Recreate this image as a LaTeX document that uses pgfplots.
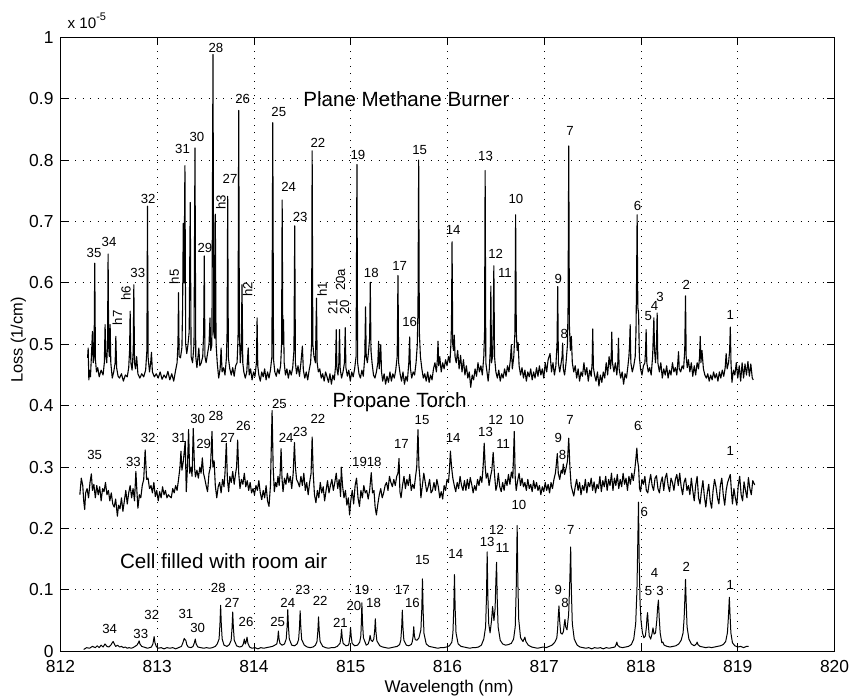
\documentclass[border=0pt]{standalone}
\usepackage{pgfplots}
\pgfplotsset{compat=1.18}
\usepackage{pgfplotstable}
\usepackage{fontspec}
\setmainfont{Liberation Sans}
\newcommand\lbl{\fontsize{6.6}{7}\selectfont}
\newcommand\ttl{\fontsize{10.3}{12}\selectfont}

\pgfplotstableread[row sep=\\]{
x y \\
812.28 0.478 \\ 812.286 0.494 \\ 812.293 0.442 \\ 812.30 0.458 \\ 812.31 0.447 \\ 812.322 0.490 \\ 812.330 0.521 \\ 812.338 0.470 \\
812.347 0.480 \\ 812.354 0.632 \\ 812.361 0.475 \\ 812.372 0.455 \\ 812.385 0.462 \\ 812.40 0.447 \\ 812.42 0.458 \\ 812.44 0.450 \\
812.453 0.470 \\ 812.461 0.532 \\ 812.468 0.480 \\ 812.478 0.470 \\ 812.486 0.500 \\ 812.492 0.647 \\ 812.498 0.495 \\ 812.505 0.480 \\
812.513 0.532 \\ 812.52 0.470 \\ 812.535 0.445 \\ 812.55 0.455 \\ 812.565 0.470 \\ 812.572 0.513 \\ 812.58 0.462 \\ 812.595 0.448 \\
812.61 0.445 \\ 812.63 0.452 \\ 812.65 0.440 \\ 812.67 0.450 \\ 812.69 0.447 \\ 812.705 0.462 \\ 812.714 0.490 \\ 812.72 0.554 \\
812.727 0.470 \\ 812.74 0.458 \\ 812.752 0.490 \\ 812.758 0.597 \\ 812.765 0.470 \\ 812.775 0.460 \\ 812.787 0.480 \\ 812.80 0.452 \\
812.82 0.445 \\ 812.84 0.452 \\ 812.86 0.447 \\ 812.88 0.458 \\ 812.893 0.490 \\ 812.899 0.725 \\ 812.906 0.478 \\ 812.92 0.455 \\
812.932 0.470 \\ 812.940 0.487 \\ 812.95 0.455 \\ 812.97 0.447 \\ 812.99 0.452 \\ 813.01 0.445 \\ 813.03 0.455 \\ 813.05 0.443 \\
813.07 0.450 \\ 813.09 0.445 \\ 813.11 0.456 \\ 813.13 0.442 \\ 813.15 0.452 \\ 813.17 0.440 \\ 813.19 0.458 \\ 813.205 0.470 \\
813.214 0.500 \\ 813.22 0.584 \\ 813.226 0.480 \\ 813.24 0.478 \\ 813.255 0.495 \\ 813.262 0.560 \\ 813.269 0.697 \\ 813.277 0.600 \\
813.286 0.791 \\ 813.294 0.500 \\ 813.305 0.485 \\ 813.318 0.500 \\ 813.330 0.520 \\ 813.341 0.731 \\ 813.350 0.480 \\ 813.365 0.470 \\
813.380 0.500 \\ 813.390 0.820 \\ 813.398 0.480 \\ 813.41 0.462 \\ 813.43 0.494 \\ 813.44 0.465 \\ 813.455 0.470 \\ 813.47 0.480 \\
813.480 0.520 \\ 813.486 0.644 \\ 813.493 0.480 \\ 813.505 0.470 \\ 813.52 0.485 \\ 813.535 0.500 \\ 813.545 0.543 \\ 813.553 0.490 \\
813.565 0.500 \\ 813.576 0.972 \\ 813.584 0.520 \\ 813.592 0.510 \\ 813.600 0.712 \\ 813.608 0.500 \\ 813.62 0.470 \\ 813.635 0.445 \\
813.65 0.460 \\ 813.66 0.494 \\ 813.67 0.455 \\ 813.685 0.462 \\ 813.70 0.450 \\ 813.715 0.478 \\ 813.722 0.520 \\ 813.728 0.741 \\
813.735 0.478 \\ 813.75 0.460 \\ 813.765 0.450 \\ 813.78 0.462 \\ 813.795 0.448 \\ 813.81 0.465 \\ 813.825 0.470 \\ 813.835 0.510 \\
813.842 0.881 \\ 813.849 0.520 \\ 813.858 0.470 \\ 813.868 0.490 \\ 813.876 0.597 \\ 813.884 0.470 \\ 813.895 0.455 \\ 813.91 0.445 \\
813.925 0.455 \\ 813.94 0.494 \\ 813.95 0.450 \\ 813.965 0.460 \\ 813.98 0.442 \\ 813.995 0.455 \\ 814.01 0.448 \\ 814.025 0.470 \\
814.032 0.543 \\ 814.039 0.465 \\ 814.05 0.450 \\ 814.065 0.440 \\ 814.08 0.455 \\ 814.095 0.447 \\ 814.11 0.460 \\ 814.125 0.442 \\
814.14 0.455 \\ 814.155 0.445 \\ 814.17 0.458 \\ 814.185 0.480 \\ 814.194 0.861 \\ 814.202 0.475 \\ 814.215 0.455 \\ 814.23 0.448 \\
814.245 0.460 \\ 814.26 0.452 \\ 814.275 0.465 \\ 814.285 0.500 \\ 814.291 0.735 \\ 814.298 0.500 \\ 814.305 0.540 \\ 814.312 0.470 \\
814.325 0.450 \\ 814.34 0.460 \\ 814.355 0.445 \\ 814.37 0.458 \\ 814.385 0.450 \\ 814.40 0.462 \\ 814.413 0.490 \\ 814.421 0.693 \\
814.428 0.470 \\ 814.44 0.452 \\ 814.455 0.465 \\ 814.47 0.448 \\ 814.485 0.470 \\ 814.50 0.497 \\ 814.51 0.458 \\ 814.525 0.445 \\
814.54 0.455 \\ 814.555 0.442 \\ 814.57 0.458 \\ 814.585 0.470 \\ 814.595 0.500 \\ 814.601 0.815 \\ 814.608 0.500 \\ 814.62 0.480 \\
814.635 0.470 \\ 814.646 0.575 \\ 814.653 0.470 \\ 814.665 0.455 \\ 814.68 0.460 \\ 814.695 0.445 \\ 814.71 0.452 \\ 814.725 0.440 \\
814.74 0.455 \\ 814.755 0.447 \\ 814.77 0.438 \\ 814.785 0.452 \\ 814.80 0.435 \\ 814.815 0.450 \\ 814.83 0.442 \\ 814.843 0.465 \\
814.850 0.524 \\ 814.857 0.460 \\ 814.868 0.450 \\ 814.877 0.470 \\ 814.884 0.524 \\ 814.891 0.460 \\ 814.905 0.445 \\ 814.92 0.455 \\
814.935 0.470 \\ 814.943 0.527 \\ 814.950 0.462 \\ 814.965 0.448 \\ 814.98 0.458 \\ 814.995 0.440 \\ 815.01 0.455 \\ 815.025 0.447 \\
815.04 0.460 \\ 815.055 0.480 \\ 815.064 0.793 \\ 815.071 0.470 \\ 815.085 0.452 \\ 815.10 0.445 \\ 815.115 0.458 \\ 815.13 0.448 \\
815.145 0.480 \\ 815.153 0.561 \\ 815.160 0.480 \\ 815.172 0.470 \\ 815.185 0.490 \\ 815.195 0.510 \\ 815.202 0.601 \\ 815.209 0.490 \\
815.22 0.470 \\ 815.235 0.450 \\ 815.25 0.445 \\ 815.265 0.455 \\ 815.28 0.470 \\ 815.288 0.505 \\ 815.295 0.460 \\ 815.31 0.4995 \\
815.318 0.455 \\ 815.33 0.440 \\ 815.345 0.452 \\ 815.36 0.435 \\ 815.375 0.448 \\ 815.39 0.438 \\ 815.405 0.455 \\ 815.42 0.440 \\
815.435 0.452 \\ 815.45 0.445 \\ 815.465 0.458 \\ 815.48 0.480 \\ 815.488 0.612 \\ 815.495 0.470 \\ 815.51 0.452 \\ 815.525 0.440 \\
815.54 0.455 \\ 815.555 0.435 \\ 815.57 0.448 \\ 815.585 0.440 \\ 815.60 0.470 \\ 815.609 0.512 \\ 815.616 0.462 \\ 815.63 0.445 \\
815.645 0.455 \\ 815.66 0.450 \\ 815.675 0.470 \\ 815.688 0.500 \\ 815.695 0.560 \\ 815.702 0.800 \\ 815.709 0.520 \\ 815.72 0.480 \\
815.735 0.460 \\ 815.75 0.445 \\ 815.765 0.452 \\ 815.78 0.440 \\ 815.795 0.455 \\ 815.81 0.438 \\ 815.825 0.450 \\ 815.84 0.442 \\
815.855 0.460 \\ 815.87 0.470 \\ 815.885 0.455 \\ 815.895 0.475 \\ 815.902 0.505 \\ 815.909 0.465 \\ 815.92 0.480 \\ 815.935 0.455 \\
815.95 0.470 \\ 815.965 0.460 \\ 815.98 0.475 \\ 815.995 0.465 \\ 816.01 0.480 \\ 816.025 0.470 \\ 816.035 0.500 \\ 816.041 0.530 \\
816.047 0.667 \\ 816.054 0.500 \\ 816.062 0.490 \\ 816.07 0.515 \\ 816.078 0.480 \\ 816.09 0.470 \\ 816.105 0.490 \\ 816.12 0.460 \\
816.135 0.482 \\ 816.15 0.455 \\ 816.165 0.475 \\ 816.18 0.450 \\ 816.195 0.465 \\ 816.21 0.445 \\ 816.225 0.455 \\ 816.24 0.430 \\
816.255 0.450 \\ 816.27 0.442 \\ 816.285 0.460 \\ 816.30 0.448 \\ 816.315 0.470 \\ 816.33 0.455 \\ 816.345 0.465 \\ 816.36 0.450 \\
816.375 0.480 \\ 816.383 0.520 \\ 816.389 0.783 \\ 816.396 0.470 \\ 816.408 0.455 \\ 816.42 0.440 \\ 816.432 0.460 \\ 816.442 0.490 \\
816.448 0.595 \\ 816.455 0.470 \\ 816.465 0.480 \\ 816.472 0.520 \\ 816.479 0.628 \\ 816.486 0.480 \\ 816.50 0.455 \\ 816.515 0.445 \\
816.53 0.458 \\ 816.545 0.440 \\ 816.56 0.452 \\ 816.575 0.445 \\ 816.59 0.460 \\ 816.605 0.448 \\ 816.62 0.465 \\ 816.635 0.455 \\
816.65 0.475 \\ 816.66 0.4995 \\ 816.67 0.460 \\ 816.685 0.480 \\ 816.697 0.520 \\ 816.704 0.711 \\ 816.711 0.520 \\ 816.72 0.490 \\
816.73 0.503 \\ 816.74 0.465 \\ 816.755 0.450 \\ 816.77 0.462 \\ 816.785 0.445 \\ 816.80 0.458 \\ 816.815 0.440 \\ 816.83 0.455 \\
816.845 0.447 \\ 816.86 0.460 \\ 816.875 0.442 \\ 816.89 0.455 \\ 816.905 0.445 \\ 816.92 0.462 \\ 816.935 0.448 \\ 816.95 0.465 \\
816.965 0.450 \\ 816.98 0.460 \\ 816.995 0.445 \\ 817.01 0.470 \\ 817.025 0.455 \\ 817.04 0.475 \\ 817.06 0.485 \\ 817.075 0.455 \\
817.09 0.470 \\ 817.105 0.450 \\ 817.12 0.465 \\ 817.132 0.500 \\ 817.139 0.594 \\ 817.146 0.470 \\ 817.16 0.455 \\ 817.175 0.470 \\
817.184 0.480 \\ 817.190 0.502 \\ 817.197 0.460 \\ 817.21 0.450 \\ 817.225 0.470 \\ 817.240 0.500 \\ 817.246 0.560 \\ 817.253 0.823 \\
817.260 0.530 \\ 817.270 0.490 \\ 817.28 0.513 \\ 817.29 0.470 \\ 817.305 0.455 \\ 817.32 0.465 \\ 817.335 0.445 \\ 817.35 0.460 \\
817.365 0.440 \\ 817.38 0.455 \\ 817.395 0.448 \\ 817.41 0.470 \\ 817.425 0.450 \\ 817.44 0.462 \\ 817.455 0.440 \\ 817.47 0.458 \\
817.485 0.448 \\ 817.495 0.470 \\ 817.501 0.525 \\ 817.508 0.462 \\ 817.52 0.450 \\ 817.535 0.440 \\ 817.55 0.455 \\ 817.565 0.432 \\
817.58 0.450 \\ 817.595 0.438 \\ 817.61 0.455 \\ 817.625 0.445 \\ 817.64 0.470 \\ 817.655 0.450 \\ 817.67 0.480 \\ 817.685 0.460 \\
817.692 0.480 \\ 817.698 0.520 \\ 817.705 0.470 \\ 817.72 0.455 \\ 817.735 0.470 \\ 817.75 0.450 \\ 817.76 0.470 \\ 817.767 0.510 \\
817.774 0.460 \\ 817.79 0.445 \\ 817.805 0.455 \\ 817.82 0.435 \\ 817.835 0.452 \\ 817.85 0.445 \\ 817.865 0.465 \\ 817.875 0.480 \\
817.882 0.500 \\ 817.888 0.532 \\ 817.895 0.470 \\ 817.91 0.455 \\ 817.925 0.465 \\ 817.94 0.480 \\ 817.948 0.520 \\ 817.954 0.600 \\
817.960 0.711 \\ 817.967 0.560 \\ 817.975 0.551 \\ 817.983 0.480 \\ 817.995 0.460 \\ 818.01 0.450 \\ 818.025 0.465 \\ 818.04 0.470 \\
818.047 0.490 \\ 818.053 0.524 \\ 818.060 0.470 \\ 818.075 0.455 \\ 818.09 0.462 \\ 818.105 0.450 \\ 818.12 0.480 \\ 818.133 0.543 \\
818.140 0.490 \\ 818.150 0.470 \\ 818.160 0.500 \\ 818.167 0.551 \\ 818.174 0.470 \\ 818.19 0.455 \\ 818.205 0.470 \\ 818.22 0.445 \\
818.235 0.460 \\ 818.25 0.450 \\ 818.265 0.465 \\ 818.28 0.445 \\ 818.295 0.458 \\ 818.31 0.450 \\ 818.325 0.470 \\ 818.34 0.455 \\
818.355 0.462 \\ 818.37 0.450 \\ 818.38 0.470 \\ 818.388 0.488 \\ 818.395 0.460 \\ 818.41 0.455 \\ 818.425 0.465 \\ 818.44 0.460 \\
818.452 0.490 \\ 818.460 0.579 \\ 818.467 0.480 \\ 818.478 0.462 \\ 818.49 0.475 \\ 818.505 0.455 \\ 818.52 0.470 \\ 818.535 0.448 \\
818.55 0.465 \\ 818.565 0.450 \\ 818.58 0.470 \\ 818.595 0.460 \\ 818.605 0.480 \\ 818.612 0.513 \\ 818.619 0.470 \\ 818.63 0.490 \\
818.645 0.460 \\ 818.66 0.450 \\ 818.675 0.445 \\ 818.69 0.452 \\ 818.705 0.440 \\ 818.72 0.450 \\ 818.735 0.442 \\ 818.75 0.455 \\
818.765 0.445 \\ 818.78 0.452 \\ 818.795 0.440 \\ 818.81 0.455 \\ 818.825 0.445 \\ 818.84 0.458 \\ 818.855 0.448 \\ 818.87 0.462 \\
818.88 0.485 \\ 818.89 0.460 \\ 818.905 0.470 \\ 818.916 0.490 \\ 818.923 0.528 \\ 818.930 0.470 \\ 818.94 0.438 \\ 818.955 0.458 \\
818.97 0.450 \\ 818.985 0.470 \\ 819.00 0.445 \\ 819.015 0.465 \\ 819.03 0.440 \\ 819.045 0.470 \\ 819.06 0.445 \\ 819.075 0.468 \\
819.09 0.450 \\ 819.105 0.472 \\ 819.12 0.448 \\ 819.135 0.468 \\ 819.15 0.445 \\ 819.16 0.442 \\
}\methane

\pgfplotstableread[row sep=\\]{
x y \\
812.20 0.255 \\ 812.215 0.282 \\ 812.23 0.270 \\ 812.24 0.245 \\ 812.25 0.231 \\ 812.26 0.258 \\ 812.275 0.265 \\ 812.29 0.250 \\
812.305 0.275 \\ 812.319 0.289 \\ 812.33 0.262 \\ 812.345 0.272 \\ 812.36 0.250 \\ 812.375 0.270 \\ 812.39 0.255 \\ 812.405 0.268 \\
812.42 0.245 \\ 812.435 0.265 \\ 812.45 0.260 \\ 812.465 0.275 \\ 812.48 0.255 \\ 812.495 0.262 \\ 812.51 0.245 \\ 812.525 0.258 \\
812.54 0.240 \\ 812.555 0.235 \\ 812.57 0.248 \\ 812.588 0.220 \\ 812.60 0.238 \\ 812.615 0.232 \\ 812.63 0.250 \\ 812.645 0.228 \\
812.66 0.245 \\ 812.675 0.262 \\ 812.69 0.240 \\ 812.705 0.258 \\ 812.72 0.270 \\ 812.735 0.250 \\ 812.75 0.265 \\ 812.765 0.245 \\
812.779 0.293 \\ 812.79 0.260 \\ 812.80 0.233 \\ 812.815 0.255 \\ 812.83 0.250 \\ 812.845 0.270 \\ 812.86 0.280 \\ 812.875 0.328 \\
812.89 0.280 \\ 812.905 0.282 \\ 812.92 0.265 \\ 812.935 0.270 \\ 812.95 0.258 \\ 812.965 0.275 \\ 812.98 0.252 \\ 812.995 0.262 \\
813.01 0.245 \\ 813.025 0.260 \\ 813.04 0.250 \\ 813.055 0.268 \\ 813.07 0.255 \\ 813.085 0.262 \\ 813.10 0.250 \\ 813.115 0.255 \\
813.13 0.252 \\ 813.145 0.250 \\ 813.16 0.265 \\ 813.175 0.258 \\ 813.19 0.270 \\ 813.205 0.262 \\ 813.22 0.280 \\ 813.235 0.300 \\
813.245 0.326 \\ 813.255 0.295 \\ 813.27 0.310 \\ 813.289 0.342 \\ 813.30 0.260 \\ 813.312 0.300 \\ 813.324 0.361 \\ 813.335 0.290 \\
813.35 0.300 \\ 813.36 0.285 \\ 813.372 0.363 \\ 813.385 0.300 \\ 813.395 0.284 \\ 813.41 0.295 \\ 813.425 0.282 \\ 813.44 0.300 \\
813.453 0.290 \\ 813.466 0.315 \\ 813.478 0.290 \\ 813.49 0.282 \\ 813.505 0.270 \\ 813.52 0.260 \\ 813.535 0.290 \\ 813.55 0.300 \\
813.566 0.358 \\ 813.575 0.300 \\ 813.588 0.310 \\ 813.60 0.270 \\ 813.615 0.250 \\ 813.63 0.268 \\ 813.645 0.275 \\ 813.66 0.258 \\
813.675 0.280 \\ 813.69 0.268 \\ 813.70 0.290 \\ 813.714 0.339 \\ 813.725 0.280 \\ 813.738 0.260 \\ 813.75 0.285 \\ 813.765 0.275 \\
813.78 0.293 \\ 813.795 0.272 \\ 813.81 0.290 \\ 813.82 0.300 \\ 813.831 0.344 \\ 813.842 0.290 \\ 813.855 0.265 \\ 813.87 0.280 \\
813.885 0.272 \\ 813.90 0.290 \\ 813.915 0.268 \\ 813.93 0.278 \\ 813.945 0.262 \\ 813.96 0.275 \\ 813.975 0.258 \\ 813.99 0.265 \\
814.005 0.255 \\ 814.02 0.270 \\ 814.035 0.262 \\ 814.05 0.278 \\ 814.065 0.258 \\ 814.08 0.247 \\ 814.095 0.262 \\ 814.11 0.250 \\
814.125 0.270 \\ 814.14 0.245 \\ 814.155 0.236 \\ 814.17 0.270 \\ 814.187 0.392 \\ 814.198 0.300 \\ 814.21 0.260 \\ 814.222 0.275 \\
814.235 0.268 \\ 814.248 0.285 \\ 814.26 0.270 \\ 814.27 0.290 \\ 814.28 0.330 \\ 814.29 0.280 \\ 814.30 0.260 \\ 814.315 0.282 \\
814.33 0.272 \\ 814.345 0.290 \\ 814.36 0.275 \\ 814.375 0.285 \\ 814.39 0.265 \\ 814.405 0.290 \\ 814.418 0.340 \\ 814.428 0.300 \\
814.44 0.280 \\ 814.455 0.275 \\ 814.47 0.268 \\ 814.485 0.285 \\ 814.50 0.270 \\ 814.515 0.290 \\ 814.53 0.262 \\ 814.545 0.275 \\
814.56 0.255 \\ 814.575 0.275 \\ 814.59 0.290 \\ 814.601 0.349 \\ 814.612 0.290 \\ 814.625 0.255 \\ 814.64 0.242 \\ 814.655 0.262 \\
814.67 0.250 \\ 814.685 0.275 \\ 814.70 0.258 \\ 814.715 0.268 \\ 814.73 0.245 \\ 814.745 0.262 \\ 814.76 0.278 \\ 814.775 0.258 \\
814.79 0.270 \\ 814.805 0.280 \\ 814.82 0.262 \\ 814.835 0.275 \\ 814.85 0.290 \\ 814.865 0.265 \\ 814.88 0.280 \\ 814.895 0.252 \\
814.902 0.300 \\ 814.915 0.270 \\ 814.93 0.250 \\ 814.945 0.262 \\ 814.96 0.238 \\ 814.975 0.250 \\ 814.988 0.222 \\ 815.00 0.245 \\
815.015 0.262 \\ 815.03 0.240 \\ 815.045 0.270 \\ 815.06 0.282 \\ 815.075 0.250 \\ 815.09 0.236 \\ 815.105 0.262 \\ 815.12 0.250 \\
815.135 0.270 \\ 815.15 0.258 \\ 815.165 0.262 \\ 815.18 0.248 \\ 815.195 0.262 \\ 815.212 0.291 \\ 815.225 0.258 \\ 815.24 0.262 \\
815.252 0.235 \\ 815.265 0.222 \\ 815.28 0.240 \\ 815.295 0.255 \\ 815.31 0.265 \\ 815.325 0.250 \\ 815.34 0.258 \\ 815.355 0.270 \\
815.37 0.275 \\ 815.385 0.262 \\ 815.40 0.285 \\ 815.415 0.275 \\ 815.43 0.268 \\ 815.445 0.280 \\ 815.46 0.270 \\ 815.475 0.285 \\
815.488 0.290 \\ 815.499 0.314 \\ 815.508 0.260 \\ 815.52 0.250 \\ 815.535 0.270 \\ 815.55 0.285 \\ 815.565 0.265 \\ 815.58 0.280 \\
815.595 0.270 \\ 815.61 0.288 \\ 815.625 0.262 \\ 815.64 0.272 \\ 815.655 0.265 \\ 815.67 0.285 \\ 815.682 0.300 \\ 815.695 0.361 \\
815.705 0.300 \\ 815.715 0.282 \\ 815.725 0.250 \\ 815.74 0.270 \\ 815.755 0.290 \\ 815.77 0.275 \\ 815.785 0.260 \\ 815.80 0.268 \\
815.815 0.280 \\ 815.83 0.258 \\ 815.845 0.262 \\ 815.86 0.275 \\ 815.875 0.262 \\ 815.89 0.280 \\ 815.905 0.268 \\ 815.92 0.250 \\
815.935 0.260 \\ 815.95 0.248 \\ 815.965 0.270 \\ 815.98 0.262 \\ 815.995 0.280 \\ 816.01 0.275 \\ 816.02 0.295 \\ 816.03 0.326 \\
816.042 0.300 \\ 816.055 0.282 \\ 816.07 0.270 \\ 816.085 0.260 \\ 816.10 0.275 \\ 816.115 0.265 \\ 816.13 0.285 \\ 816.145 0.270 \\
816.16 0.262 \\ 816.175 0.278 \\ 816.19 0.262 \\ 816.205 0.280 \\ 816.22 0.265 \\ 816.235 0.283 \\ 816.25 0.272 \\ 816.265 0.258 \\
816.28 0.270 \\ 816.295 0.262 \\ 816.31 0.280 \\ 816.325 0.270 \\ 816.34 0.285 \\ 816.355 0.275 \\ 816.368 0.300 \\ 816.379 0.339 \\
816.39 0.300 \\ 816.40 0.282 \\ 816.415 0.290 \\ 816.43 0.270 \\ 816.445 0.285 \\ 816.458 0.295 \\ 816.472 0.324 \\ 816.485 0.290 \\
816.50 0.262 \\ 816.512 0.270 \\ 816.525 0.290 \\ 816.54 0.268 \\ 816.555 0.260 \\ 816.57 0.275 \\ 816.585 0.262 \\ 816.60 0.280 \\
816.615 0.270 \\ 816.63 0.288 \\ 816.645 0.272 \\ 816.66 0.292 \\ 816.675 0.282 \\ 816.69 0.358 \\ 816.70 0.282 \\ 816.71 0.262 \\
816.725 0.278 \\ 816.74 0.290 \\ 816.755 0.270 \\ 816.77 0.282 \\ 816.785 0.268 \\ 816.80 0.275 \\ 816.815 0.262 \\ 816.83 0.280 \\
816.845 0.265 \\ 816.86 0.272 \\ 816.875 0.260 \\ 816.89 0.278 \\ 816.905 0.265 \\ 816.92 0.275 \\ 816.935 0.262 \\ 816.95 0.270 \\
816.965 0.255 \\ 816.98 0.268 \\ 816.995 0.260 \\ 817.01 0.275 \\ 817.025 0.262 \\ 817.04 0.272 \\ 817.055 0.258 \\ 817.07 0.275 \\
817.085 0.265 \\ 817.10 0.280 \\ 817.115 0.290 \\ 817.125 0.305 \\ 817.135 0.322 \\ 817.145 0.290 \\ 817.16 0.280 \\ 817.175 0.295 \\
817.187 0.290 \\ 817.197 0.305 \\ 817.21 0.288 \\ 817.225 0.298 \\ 817.24 0.310 \\ 817.253 0.347 \\ 817.265 0.300 \\ 817.278 0.270 \\
817.29 0.262 \\ 817.305 0.253 \\ 817.32 0.268 \\ 817.335 0.280 \\ 817.35 0.262 \\ 817.365 0.275 \\ 817.38 0.255 \\ 817.395 0.270 \\
817.41 0.262 \\ 817.425 0.280 \\ 817.44 0.258 \\ 817.455 0.275 \\ 817.47 0.268 \\ 817.485 0.282 \\ 817.50 0.262 \\ 817.515 0.276 \\
817.53 0.258 \\ 817.545 0.272 \\ 817.56 0.265 \\ 817.575 0.285 \\ 817.59 0.260 \\ 817.605 0.278 \\ 817.62 0.268 \\ 817.635 0.285 \\
817.65 0.262 \\ 817.665 0.280 \\ 817.68 0.270 \\ 817.695 0.290 \\ 817.71 0.262 \\ 817.725 0.282 \\ 817.74 0.270 \\ 817.755 0.288 \\
817.77 0.265 \\ 817.785 0.280 \\ 817.80 0.268 \\ 817.815 0.290 \\ 817.83 0.272 \\ 817.845 0.282 \\ 817.86 0.262 \\ 817.875 0.285 \\
817.89 0.272 \\ 817.905 0.290 \\ 817.92 0.278 \\ 817.935 0.295 \\ 817.945 0.310 \\ 817.957 0.331 \\ 817.965 0.310 \\ 817.975 0.300 \\
817.985 0.265 \\ 817.995 0.260 \\ 818.01 0.280 \\ 818.025 0.272 \\ 818.04 0.285 \\ 818.055 0.262 \\ 818.07 0.258 \\ 818.085 0.275 \\
818.10 0.288 \\ 818.115 0.270 \\ 818.13 0.262 \\ 818.145 0.282 \\ 818.16 0.286 \\ 818.175 0.265 \\ 818.19 0.258 \\ 818.205 0.275 \\
818.22 0.284 \\ 818.235 0.262 \\ 818.25 0.282 \\ 818.265 0.290 \\ 818.28 0.270 \\ 818.295 0.260 \\ 818.31 0.282 \\ 818.325 0.275 \\
818.34 0.262 \\ 818.355 0.280 \\ 818.37 0.288 \\ 818.385 0.270 \\ 818.40 0.290 \\ 818.415 0.268 \\ 818.43 0.255 \\ 818.445 0.275 \\
818.46 0.282 \\ 818.475 0.262 \\ 818.49 0.270 \\ 818.505 0.255 \\ 818.52 0.282 \\ 818.535 0.262 \\ 818.55 0.245 \\ 818.565 0.270 \\
818.58 0.285 \\ 818.595 0.250 \\ 818.61 0.240 \\ 818.625 0.262 \\ 818.64 0.278 \\ 818.655 0.252 \\ 818.67 0.235 \\ 818.685 0.258 \\
818.70 0.272 \\ 818.715 0.245 \\ 818.73 0.233 \\ 818.745 0.262 \\ 818.76 0.280 \\ 818.775 0.268 \\ 818.79 0.250 \\ 818.805 0.240 \\
818.82 0.270 \\ 818.835 0.282 \\ 818.85 0.255 \\ 818.865 0.238 \\ 818.88 0.262 \\ 818.895 0.275 \\ 818.91 0.282 \\ 818.923 0.288 \\
818.935 0.260 \\ 818.945 0.240 \\ 818.96 0.265 \\ 818.975 0.250 \\ 818.99 0.238 \\ 819.005 0.270 \\ 819.02 0.285 \\ 819.035 0.255 \\
819.05 0.245 \\ 819.065 0.276 \\ 819.08 0.262 \\ 819.095 0.250 \\ 819.11 0.283 \\ 819.125 0.265 \\ 819.14 0.255 \\ 819.155 0.278 \\
819.175 0.271 \\
}\propane

\pgfplotstableread[row sep=\\]{
x y \\
812.24 0.003 \\ 812.27 0.006 \\ 812.30 0.005 \\ 812.33 0.008 \\ 812.36 0.006 \\ 812.38 0.009 \\ 812.40 0.006 \\ 812.42 0.010 \\
812.44 0.007 \\ 812.46 0.012 \\ 812.48 0.008 \\ 812.50 0.007 \\ 812.52 0.010 \\ 812.535 0.014 \\ 812.544 0.016 \\ 812.553 0.013 \\
812.57 0.008 \\ 812.59 0.010 \\ 812.61 0.007 \\ 812.63 0.008 \\ 812.65 0.006 \\ 812.67 0.007 \\ 812.69 0.005 \\ 812.71 0.006 \\
812.73 0.005 \\ 812.75 0.006 \\ 812.77 0.008 \\ 812.79 0.010 \\ 812.805 0.014 \\ 812.813 0.017 \\ 812.821 0.012 \\ 812.84 0.008 \\
812.86 0.007 \\ 812.88 0.006 \\ 812.90 0.005 \\ 812.92 0.006 \\ 812.94 0.007 \\ 812.955 0.012 \\ 812.968 0.024 \\ 812.976 0.014 \\
812.99 0.008 \\ 813.01 0.005 \\ 813.04 0.006 \\ 813.07 0.004 \\ 813.10 0.006 \\ 813.13 0.005 \\ 813.16 0.006 \\ 813.19 0.004 \\
813.22 0.006 \\ 813.25 0.008 \\ 813.265 0.014 \\ 813.279 0.021 \\ 813.287 0.019 \\ 813.295 0.018 \\ 813.305 0.011 \\ 813.32 0.007 \\
813.35 0.006 \\ 813.37 0.008 \\ 813.384 0.014 \\ 813.393 0.020 \\ 813.402 0.012 \\ 813.42 0.007 \\ 813.45 0.006 \\ 813.48 0.005 \\
813.51 0.006 \\ 813.54 0.005 \\ 813.57 0.006 \\ 813.60 0.008 \\ 813.62 0.012 \\ 813.639 0.020 \\ 813.648 0.044 \\ 813.655 0.075 \\
813.662 0.044 \\ 813.671 0.020 \\ 813.69 0.010 \\ 813.72 0.008 \\ 813.745 0.011 \\ 813.764 0.018 \\ 813.773 0.038 \\ 813.78 0.064 \\
813.787 0.038 \\ 813.796 0.018 \\ 813.82 0.009 \\ 813.85 0.007 \\ 813.875 0.008 \\ 813.89 0.012 \\ 813.90 0.020 \\ 813.91 0.012 \\
813.918 0.015 \\ 813.928 0.023 \\ 813.937 0.013 \\ 813.955 0.007 \\ 813.98 0.005 \\ 814.01 0.006 \\ 814.04 0.004 \\ 814.07 0.006 \\
814.10 0.005 \\ 814.13 0.006 \\ 814.16 0.007 \\ 814.19 0.008 \\ 814.215 0.010 \\ 814.236 0.012 \\ 814.245 0.020 \\ 814.252 0.033 \\
814.259 0.020 \\ 814.268 0.013 \\ 814.29 0.010 \\ 814.315 0.012 \\ 814.333 0.020 \\ 814.342 0.040 \\ 814.349 0.068 \\ 814.356 0.040 \\
814.365 0.020 \\ 814.39 0.010 \\ 814.42 0.009 \\ 814.445 0.012 \\ 814.461 0.019 \\ 814.47 0.039 \\ 814.477 0.066 \\ 814.484 0.039 \\
814.493 0.019 \\ 814.52 0.010 \\ 814.55 0.007 \\ 814.58 0.006 \\ 814.61 0.007 \\ 814.635 0.010 \\ 814.651 0.016 \\ 814.66 0.033 \\
814.667 0.056 \\ 814.674 0.033 \\ 814.683 0.016 \\ 814.71 0.008 \\ 814.74 0.006 \\ 814.77 0.005 \\ 814.80 0.006 \\ 814.83 0.006 \\
814.86 0.008 \\ 814.889 0.013 \\ 814.898 0.022 \\ 814.905 0.036 \\ 814.912 0.022 \\ 814.921 0.013 \\ 814.95 0.009 \\ 814.975 0.010 \\
814.982 0.013 \\ 814.991 0.024 \\ 814.998 0.039 \\ 815.005 0.024 \\ 815.014 0.013 \\ 815.04 0.009 \\ 815.07 0.010 \\ 815.093 0.015 \\
815.104 0.025 \\ 815.11 0.048 \\ 815.115 0.079 \\ 815.122 0.046 \\ 815.131 0.022 \\ 815.16 0.010 \\ 815.18 0.012 \\ 815.192 0.018 \\
815.20 0.026 \\ 815.21 0.018 \\ 815.225 0.016 \\ 815.238 0.020 \\ 815.247 0.033 \\ 815.254 0.053 \\ 815.261 0.031 \\ 815.27 0.017 \\
815.30 0.009 \\ 815.33 0.007 \\ 815.36 0.006 \\ 815.39 0.005 \\ 815.42 0.006 \\ 815.45 0.007 \\ 815.48 0.008 \\ 815.505 0.011 \\
815.517 0.018 \\ 815.526 0.038 \\ 815.533 0.067 \\ 815.540 0.038 \\ 815.549 0.018 \\ 815.575 0.010 \\ 815.60 0.009 \\ 815.625 0.011 \\
815.635 0.015 \\ 815.644 0.024 \\ 815.651 0.040 \\ 815.658 0.025 \\ 815.667 0.019 \\ 815.685 0.018 \\ 815.705 0.022 \\ 815.725 0.035 \\
815.734 0.068 \\ 815.741 0.118 \\ 815.748 0.066 \\ 815.757 0.029 \\ 815.78 0.012 \\ 815.81 0.008 \\ 815.84 0.007 \\ 815.87 0.006 \\
815.90 0.005 \\ 815.93 0.006 \\ 815.96 0.006 \\ 815.99 0.007 \\ 816.02 0.009 \\ 816.045 0.015 \\ 816.056 0.030 \\ 816.065 0.070 \\
816.072 0.125 \\ 816.079 0.070 \\ 816.088 0.030 \\ 816.11 0.012 \\ 816.14 0.008 \\ 816.17 0.007 \\ 816.20 0.006 \\ 816.23 0.005 \\
816.26 0.006 \\ 816.29 0.006 \\ 816.32 0.007 \\ 816.35 0.010 \\ 816.375 0.020 \\ 816.394 0.040 \\ 816.403 0.090 \\ 816.41 0.162 \\
816.417 0.090 \\ 816.426 0.045 \\ 816.44 0.030 \\ 816.455 0.050 \\ 816.466 0.073 \\ 816.48 0.050 \\ 816.492 0.070 \\ 816.50 0.115 \\
816.507 0.145 \\ 816.514 0.085 \\ 816.523 0.040 \\ 816.545 0.018 \\ 816.57 0.012 \\ 816.60 0.010 \\ 816.63 0.011 \\ 816.66 0.013 \\
816.683 0.020 \\ 816.70 0.040 \\ 816.71 0.100 \\ 816.72 0.205 \\ 816.727 0.115 \\ 816.736 0.052 \\ 816.755 0.022 \\ 816.78 0.016 \\
816.792 0.020 \\ 816.80 0.023 \\ 816.81 0.016 \\ 816.835 0.010 \\ 816.87 0.007 \\ 816.90 0.006 \\ 816.93 0.005 \\ 816.96 0.006 \\
816.99 0.007 \\ 817.02 0.006 \\ 817.05 0.008 \\ 817.08 0.010 \\ 817.11 0.015 \\ 817.13 0.022 \\ 817.138 0.036 \\ 817.145 0.058 \\
817.152 0.074 \\ 817.159 0.050 \\ 817.17 0.030 \\ 817.185 0.028 \\ 817.198 0.032 \\ 817.207 0.045 \\ 817.214 0.052 \\ 817.221 0.040 \\
817.235 0.035 \\ 817.252 0.060 \\ 817.265 0.120 \\ 817.273 0.170 \\ 817.28 0.100 \\ 817.29 0.045 \\ 817.31 0.020 \\ 817.34 0.010 \\
817.37 0.007 \\ 817.40 0.006 \\ 817.43 0.005 \\ 817.46 0.006 \\ 817.49 0.004 \\ 817.52 0.006 \\ 817.55 0.005 \\ 817.58 0.006 \\
817.61 0.004 \\ 817.64 0.006 \\ 817.67 0.005 \\ 817.70 0.006 \\ 817.73 0.007 \\ 817.742 0.011 \\ 817.75 0.015 \\ 817.758 0.010 \\
817.78 0.007 \\ 817.81 0.006 \\ 817.84 0.007 \\ 817.87 0.008 \\ 817.90 0.011 \\ 817.925 0.020 \\ 817.945 0.045 \\ 817.958 0.100 \\
817.967 0.180 \\ 817.974 0.243 \\ 817.981 0.150 \\ 817.99 0.080 \\ 818.00 0.050 \\ 818.015 0.030 \\ 818.03 0.022 \\ 818.045 0.025 \\
818.056 0.040 \\ 818.062 0.055 \\ 818.068 0.063 \\ 818.075 0.045 \\ 818.085 0.025 \\ 818.10 0.020 \\ 818.113 0.028 \\ 818.124 0.038 \\
818.135 0.028 \\ 818.15 0.030 \\ 818.163 0.050 \\ 818.172 0.072 \\ 818.18 0.0835 \\ 818.188 0.055 \\ 818.198 0.030 \\ 818.215 0.014 \\
818.225 0.015 \\ 818.24 0.010 \\ 818.27 0.008 \\ 818.30 0.007 \\ 818.33 0.008 \\ 818.36 0.009 \\ 818.39 0.012 \\ 818.415 0.018 \\
818.435 0.030 \\ 818.446 0.055 \\ 818.453 0.085 \\ 818.46 0.117 \\ 818.467 0.080 \\ 818.476 0.040 \\ 818.495 0.020 \\ 818.52 0.012 \\
818.55 0.009 \\ 818.572 0.012 \\ 818.58 0.015 \\ 818.588 0.011 \\ 818.61 0.008 \\ 818.64 0.007 \\ 818.67 0.006 \\ 818.70 0.007 \\
818.73 0.006 \\ 818.76 0.007 \\ 818.79 0.008 \\ 818.82 0.009 \\ 818.85 0.011 \\ 818.875 0.016 \\ 818.893 0.030 \\ 818.903 0.055 \\
818.913 0.088 \\ 818.92 0.060 \\ 818.929 0.030 \\ 818.945 0.014 \\ 818.97 0.009 \\ 819.00 0.007 \\ 819.03 0.008 \\ 819.06 0.006 \\
819.09 0.008 \\ 819.113 0.008 \\
}\roomair

\begin{document}
\begin{tikzpicture}
\useasboundingbox (-30.25pt,-23.25pt) rectangle (394.25pt,325.65pt);
\begin{axis}[
  at={(0,0)}, anchor=south west,
  scale only axis, width=387pt, height=307pt,
  xmin=812, xmax=820, ymin=0, ymax=1,
  xtick={812,813,814,815,816,817,818,819,820},
  ytick={0,0.1,0.2,0.3,0.4,0.5,0.6,0.7,0.8,0.9,1},
  grid=major,
  major grid style={black, line width=0.5pt, dash pattern=on 0.5pt off 3.2pt},
  tick align=inside, major tick length=4pt,
  tick style={black, line width=0.5pt},
  axis line style={black, line width=0.5pt},
  /pgf/number format/assume math mode=true,
  tick label style={font=\fontsize{8.7}{10}\selectfont},
  xticklabel style={yshift=-1.2pt},
  xlabel={Wavelength (nm)}, ylabel={Loss (1/cm)},
  every axis x label/.style={at={(axis description cs:0.502,-0.0595)}, anchor=center, font=\fontsize{8.5}{10}\selectfont},
  every axis y label/.style={at={(axis description cs:-0.0543,0.507)}, rotate=90, anchor=center, font=\fontsize{8.2}{10}\selectfont},
  clip=false,
]
\addplot[black, line width=0.55pt, line join=round] table[x=x, y=y] {\methane};
\addplot[black, line width=0.55pt, line join=round] table[x=x, y=y] {\propane};
\addplot[black, line width=0.5pt, line join=round] table[x=x, y=y] {\roomair};

\node[anchor=base west, font=\fontsize{7.6}{9}\selectfont] at ([yshift=4.2pt]rel axis cs:0,1) {x 10\raisebox{4.3pt}{\fontsize{5.5}{6}\selectfont -5}};

% titles
\node[anchor=base, font=\ttl] at (axis cs:815.575,0.8865) {Plane Methane Burner};
\node[anchor=base, font=\ttl] at (axis cs:815.506,0.3965) {Propane Torch};
\node[anchor=base, font=\ttl] at (axis cs:813.686,0.1355) {Cell filled with room air};

\begin{scope}[every node/.style={font=\lbl, inner sep=0pt}]
% methane labels
\node at (axis cs:813.607,0.983) {28};
\node at (axis cs:813.883,0.899) {26};
\node at (axis cs:814.256,0.878) {25};
\node at (axis cs:813.41,0.838) {30};
\node at (axis cs:813.261,0.818) {31};
\node at (axis cs:814.66,0.828) {22};
\node at (axis cs:813.752,0.769) {27};
\node at (axis cs:814.359,0.757) {24};
\node[rotate=90] at (axis cs:813.659,0.731) {h3};
\node at (axis cs:812.906,0.737) {32};
\node at (axis cs:814.477,0.708) {23};
\node at (axis cs:812.347,0.648) {35};
\node at (axis cs:812.502,0.666) {34};
\node at (axis cs:813.493,0.657) {29};
\node at (axis cs:812.799,0.617) {33};
\node[rotate=90] at (axis cs:813.175,0.610) {h5};
\node[rotate=90] at (axis cs:812.675,0.583) {h6};
\node[rotate=90] at (axis cs:813.935,0.590) {h2};
\node[rotate=90] at (axis cs:812.588,0.543) {h7};
\node[rotate=90] at (axis cs:814.705,0.590) {h1};
\node[rotate=90] at (axis cs:814.895,0.605) {20a};
\node[rotate=90] at (axis cs:814.815,0.561) {21};
\node[rotate=90] at (axis cs:814.936,0.560) {20};
\node at (axis cs:815.074,0.808) {19};
\node at (axis cs:815.713,0.817) {15};
\node at (axis cs:816.393,0.807) {13};
\node at (axis cs:817.266,0.848) {7};
\node at (axis cs:816.707,0.737) {10};
\node at (axis cs:816.058,0.686) {14};
\node at (axis cs:816.497,0.647) {12};
\node at (axis cs:816.593,0.617) {11};
\node at (axis cs:815.212,0.617) {18};
\node at (axis cs:815.506,0.627) {17};
\node at (axis cs:815.609,0.537) {16};
\node at (axis cs:817.145,0.606) {9};
\node at (axis cs:817.207,0.517) {8};
\node at (axis cs:817.963,0.726) {6};
\node at (axis cs:818.468,0.597) {2};
\node at (axis cs:818.198,0.577) {3};
\node at (axis cs:818.139,0.563) {4};
\node at (axis cs:818.074,0.546) {5};
\node at (axis cs:818.923,0.548) {1};
% propane labels
\node at (axis cs:814.263,0.403) {25};
\node at (axis cs:813.417,0.379) {30};
\node at (axis cs:813.607,0.384) {28};
\node at (axis cs:814.66,0.378) {22};
\node at (axis cs:813.89,0.367) {26};
\node at (axis cs:812.906,0.347) {32};
\node at (axis cs:813.227,0.347) {31};
\node at (axis cs:813.728,0.347) {27};
\node at (axis cs:814.332,0.347) {24};
\node at (axis cs:814.477,0.357) {23};
\node at (axis cs:813.479,0.338) {29};
\node at (axis cs:812.354,0.319) {35};
\node at (axis cs:812.754,0.308) {33};
\node at (axis cs:815.737,0.377) {15};
\node at (axis cs:816.497,0.377) {12};
\node at (axis cs:816.714,0.377) {10};
\node at (axis cs:817.266,0.377) {7};
\node at (axis cs:816.393,0.357) {13};
\node at (axis cs:816.058,0.347) {14};
\node at (axis cs:815.523,0.338) {17};
\node at (axis cs:816.576,0.338) {11};
\node at (axis cs:817.145,0.347) {9};
\node at (axis cs:817.19,0.319) {8};
\node at (axis cs:815.167,0.309) {1918};
\node at (axis cs:817.967,0.367) {6};
\node at (axis cs:818.923,0.327) {1};
% room air labels
\node at (axis cs:813.631,0.1035) {28};
\node at (axis cs:814.504,0.0997) {23};
\node at (axis cs:813.773,0.079) {27};
\node at (axis cs:814.349,0.079) {24};
\node at (axis cs:814.684,0.082) {22};
\node at (axis cs:812.944,0.059) {32};
\node at (axis cs:813.296,0.061) {31};
\node at (axis cs:813.417,0.0385) {30};
\node at (axis cs:814.245,0.048) {25};
\node at (axis cs:813.918,0.048) {26};
\node at (axis cs:814.894,0.047) {21};
\node at (axis cs:812.509,0.037) {34};
\node at (axis cs:812.83,0.029) {33};
\node at (axis cs:815.115,0.0997) {19};
\node at (axis cs:815.032,0.074) {20};
\node at (axis cs:815.236,0.079) {18};
\node at (axis cs:815.533,0.0997) {17};
\node at (axis cs:815.637,0.079) {16};
\node at (axis cs:815.741,0.148) {15};
\node at (axis cs:816.086,0.158) {14};
\node at (axis cs:816.41,0.178) {13};
\node at (axis cs:816.507,0.198) {12};
\node at (axis cs:816.569,0.169) {11};
\node at (axis cs:816.738,0.238) {10};
\node at (axis cs:817.145,0.0997) {9};
\node at (axis cs:817.214,0.079) {8};
\node at (axis cs:817.273,0.197) {7};
\node at (axis cs:818.033,0.227) {6};
\node at (axis cs:818.139,0.128) {4};
\node at (axis cs:818.077,0.098) {5};
\node at (axis cs:818.198,0.098) {3};
\node at (axis cs:818.468,0.137) {2};
\node at (axis cs:818.923,0.108) {1};
\end{scope}
\end{axis}
\end{tikzpicture}
\end{document}
